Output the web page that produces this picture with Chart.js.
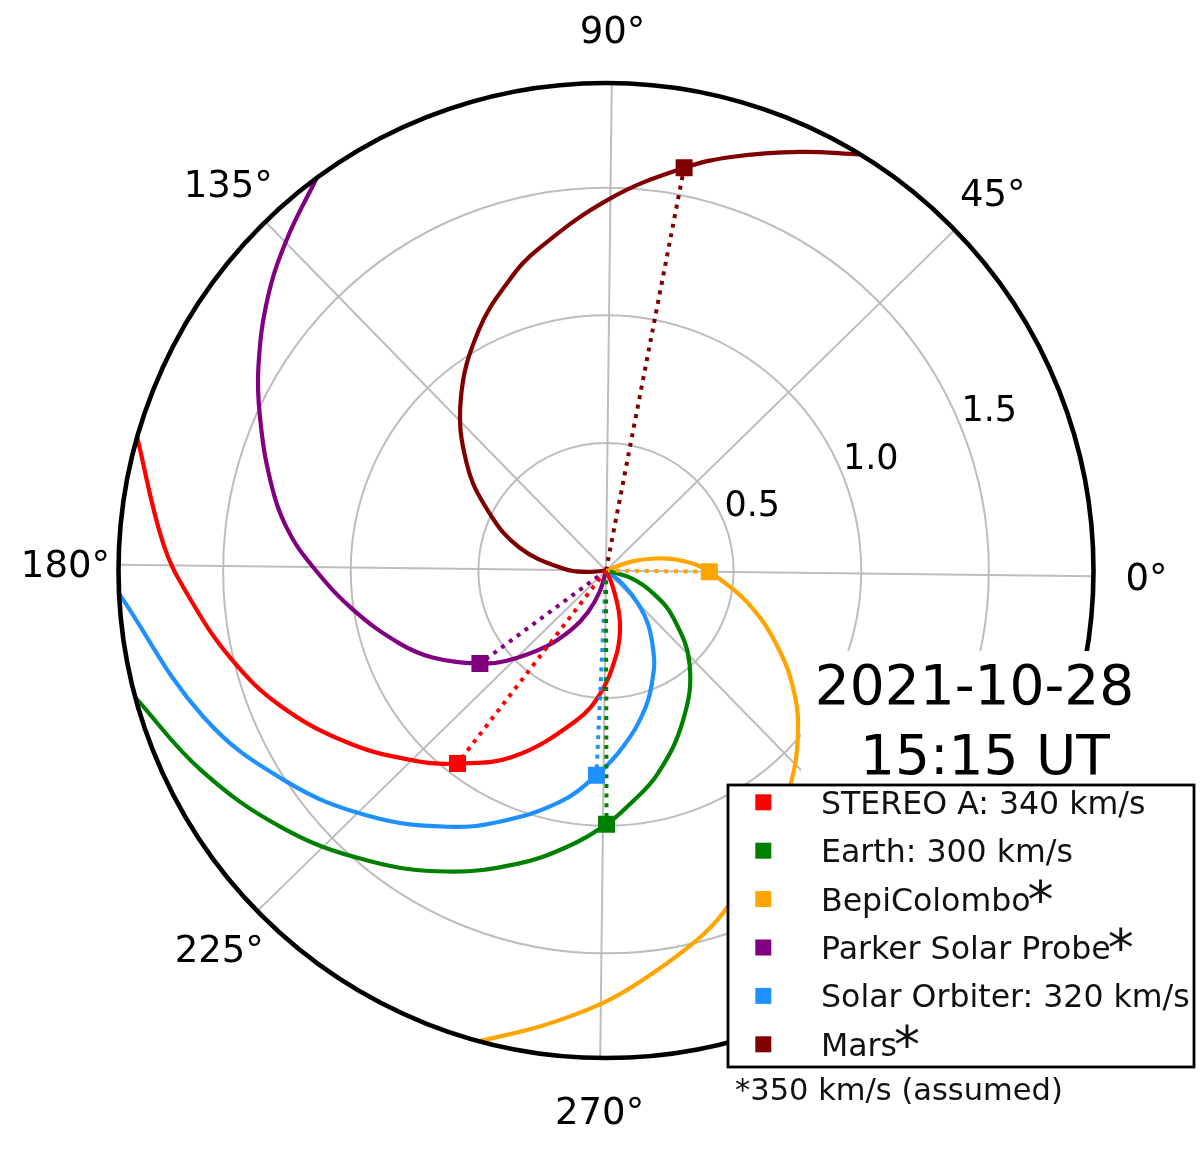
<!DOCTYPE html>
<html>
<head>
<meta charset="utf-8">
<script src="https://cdn.jsdelivr.net/npm/chart.js@4.4.1/dist/chart.umd.min.js"></script>
<style>
  html, body { margin: 0; padding: 0; background: #fff; }
</style>
</head>
<body>
<canvas id="myChart" width="1200" height="1149"></canvas>
<script>
// values: longitude in degrees, distance in AU
const bodyNames  = ['STEREO A', 'Earth', 'BepiColombo', 'Parker Solar Probe', 'Solar Orbiter', 'Mars'];
const windSpeeds = [340, 300, null, null, 320, null];   // null -> assumed speed
const assumedSpeed = 350;
const bodyLon  = [233.1, 270.8, 0.0, 217.1, 268.0, 79.7];
const bodyDist = [0.954, 0.994, 0.405, 0.614, 0.803, 1.607];

// Parker spirals, [lon, r] from the Sun outwards
const spiralStereoA = [[0, 0], [293.9, 0.062], [288.0, 0.169], [283.5, 0.247], [277.6, 0.334], [268.2, 0.48],
  [259.4, 0.60], [244.1, 0.816], [233.1, 0.954], [226.0, 1.051], [214.7, 1.211], [203.4, 1.379],
  [193.9, 1.509], [184.1, 1.640], [177.2, 1.738], [164.8, 1.91]];
const spiralEarth = [[0, 0], [343.5, 0.105], [334.9, 0.205], [325.8, 0.32], [312.4, 0.492], [298.0, 0.659],
  [285.0, 0.821], [275.8, 0.929], [270.8, 0.994], [262.6, 1.094], [253.8, 1.201], [242.9, 1.333],
  [231.5, 1.468], [219.5, 1.616], [207.0, 1.768], [195.8, 1.91]];
const spiralBepi = [[0, 0], [20.0, 0.105], [14.5, 0.197], [9.8, 0.274], [4.3, 0.354], [0.0, 0.405],
  [348.2, 0.564], [336.9, 0.733], [327.2, 0.887], [319.3, 1.001], [312.1, 1.099], [301.4, 1.25],
  [289.8, 1.414], [284.5, 1.491], [275.8, 1.611], [270.1, 1.697], [262.7, 1.801], [255.6, 1.91]];
const spiralPsp = [[0, 0], [254.1, 0.087], [247.3, 0.177], [240.7, 0.264], [232.5, 0.378], [223.0, 0.525],
  [217.1, 0.614], [207.3, 0.760], [200.2, 0.857], [189.6, 1.001], [180.0, 1.148], [173.2, 1.260],
  [165.7, 1.361], [156.7, 1.484], [150.2, 1.580], [141.9, 1.701], [134.7, 1.801], [127.1, 1.91]];
const spiralSolo = [[0, 0], [321.5, 0.084], [314.4, 0.185], [308.5, 0.270], [301.0, 0.368], [296.3, 0.433],
  [286.9, 0.557], [276.2, 0.694], [268.0, 0.803], [259.3, 0.926], [247.7, 1.069], [238.9, 1.181],
  [226.7, 1.337], [214.0, 1.502], [200.6, 1.679], [183.4, 1.91]];
const spiralMars = [[0, 0], [185.5, 0.07], [178.7, 0.162], [165.9, 0.35], [154.2, 0.513], [143.1, 0.689],
  [130.7, 0.884], [118.6, 1.065], [109.1, 1.199], [102.6, 1.287], [90.0, 1.458], [79.7, 1.607],
  [73.6, 1.696], [65.8, 1.808], [59.3, 1.91]];

const angleTicks  = [0, 45, 90, 135, 180, 225, 270, 315];
const radialTicks = [0.5, 1.0, 1.5];
const rMax = 1.91;
const dateLabel = '2021-10-28';
const timeLabel = '15:15 UT';

// styles
const bodyColors = ['#ff0000', '#008000', '#ffa500', '#800080', '#1e90ff', '#800000'];
const plotRotation = -0.68;   // the source picture is turned a little
const fontFamily = '"DejaVu Sans", sans-serif';

function toXY(lon, r) {
  const a = (lon + plotRotation) * Math.PI / 180;
  return { x: r * Math.cos(a), y: r * Math.sin(a) };
}

const spirals = [spiralStereoA, spiralEarth, spiralBepi, spiralPsp, spiralSolo, spiralMars];
const datasets = [];
bodyNames.forEach(function(name, i) {
  datasets.push({
    label: name,
    data: [toXY(bodyLon[i], bodyDist[i])],
    showLine: false,
    pointStyle: 'rect',
    pointRadius: 12,
    backgroundColor: bodyColors[i],
    borderWidth: 0,
    order: 0
  });
  datasets.push({
    label: name + ' radial',
    data: [toXY(0, 0), toXY(bodyLon[i], bodyDist[i])],
    borderColor: bodyColors[i],
    borderWidth: 4,
    borderDash: [4, 5.7],
    pointRadius: 0,
    order: 1
  });
  datasets.push({
    label: name + ' spiral',
    data: spirals[i].map(p => toXY(p[0], p[1])),
    borderColor: bodyColors[i],
    borderWidth: 4.2,
    borderJoinStyle: 'round',
    tension: 0.4,
    pointRadius: 0,
    order: 2
  });
});

// polar grid, labels, date and legend
const polarDecor = {
  id: 'polarDecor',
  beforeDatasetsDraw(chart) {
    const {ctx, scales: {x, y}} = chart;
    const cx = x.getPixelForValue(0), cy = y.getPixelForValue(0);
    const pxPerAU = x.getPixelForValue(1) - cx;
    ctx.save();
    ctx.strokeStyle = '#bdbdbd';
    ctx.lineWidth = 2;
    radialTicks.forEach(r => {
      ctx.beginPath();
      ctx.arc(cx, cy, r * pxPerAU, 0, 2 * Math.PI);
      ctx.stroke();
    });
    angleTicks.forEach(a => {
      const p = toXY(a, rMax);
      ctx.beginPath();
      ctx.moveTo(cx, cy);
      ctx.lineTo(x.getPixelForValue(p.x), y.getPixelForValue(p.y));
      ctx.stroke();
    });
    ctx.restore();
  },
  afterDatasetsDraw(chart) {
    const {ctx, scales: {x, y}} = chart;
    const cx = x.getPixelForValue(0), cy = y.getPixelForValue(0);
    const pxPerAU = x.getPixelForValue(1) - cx;
    ctx.save();

    // outer circle
    ctx.strokeStyle = '#000';
    ctx.lineWidth = 4.6;
    ctx.beginPath();
    ctx.arc(cx, cy, rMax * pxPerAU, 0, 2 * Math.PI);
    ctx.stroke();

    ctx.fillStyle = '#000';
    ctx.textBaseline = 'alphabetic';

    // angle labels
    ctx.font = '37px ' + fontFamily;
    ctx.textAlign = 'center';
    angleTicks.forEach(a => {
      const p = toXY(a, rMax * 1.109);
      ctx.fillText(a + '°', x.getPixelForValue(p.x), y.getPixelForValue(p.y) + 13.4);
    });

    // radial tick labels
    ctx.font = '35px ' + fontFamily;
    ctx.textAlign = 'left';
    radialTicks.forEach(r => {
      const p = toXY(22.5, r);
      ctx.fillText(r.toFixed(1), x.getPixelForValue(p.x), y.getPixelForValue(p.y) - 7);
    });

    // date box
    ctx.fillStyle = '#fff';
    ctx.fillRect(801, 651, 360, 140);
    ctx.fillStyle = '#000';
    ctx.font = '55px ' + fontFamily;
    ctx.textAlign = 'center';
    ctx.fillText(dateLabel, 974.5, 704);
    ctx.fillText(timeLabel, 985, 773.5);

    // legend
    const lg = { left: 728, top: 785, width: 466, height: 282, row0: 802.3, rowGap: 48.4, markX: 763.3, textX: 821 };
    ctx.fillStyle = '#fff';
    ctx.fillRect(lg.left, lg.top, lg.width, lg.height);
    ctx.strokeStyle = '#000';
    ctx.lineWidth = 2.8;
    ctx.strokeRect(lg.left, lg.top, lg.width, lg.height);
    ctx.textAlign = 'left';
    bodyNames.forEach((name, i) => {
      const yc = lg.row0 + i * lg.rowGap;
      ctx.fillStyle = bodyColors[i];
      ctx.fillRect(lg.markX - 8, yc - 8, 16, 16);
      ctx.fillStyle = '#111';
      ctx.font = '31.6px ' + fontFamily;
      const txt = windSpeeds[i] ? name + ': ' + windSpeeds[i] + ' km/s' : name;
      ctx.fillText(txt, lg.textX, yc + 11.5);
      if (!windSpeeds[i]) {
        const w = ctx.measureText(txt).width;
        ctx.font = '52px ' + fontFamily;
        ctx.fillText('*', lg.textX + w - 3, yc + 18.5);
      }
    });
    ctx.font = '30.5px ' + fontFamily;
    ctx.fillStyle = '#111';
    ctx.fillText('*' + assumedSpeed + ' km/s (assumed)', 735, 1100);

    ctx.restore();
  }
};

var ctx = document.getElementById('myChart').getContext('2d');
var myChart = new Chart(ctx, {
  type: 'line',
  data: { datasets: datasets },
  options: {
    responsive: false,
    devicePixelRatio: 1,
    animation: false,
    events: [],
    layout: { padding: { left: 118.5, right: 106.5, top: 83, bottom: 91 } },
    plugins: {
      legend: { display: false },
      title: { display: false },
      tooltip: { enabled: false }
    },
    scales: {
      x: { type: 'linear', min: -rMax, max: rMax, display: false },
      y: { type: 'linear', min: -rMax, max: rMax, display: false }
    }
  },
  plugins: [polarDecor]
});
</script>
</body>
</html>
